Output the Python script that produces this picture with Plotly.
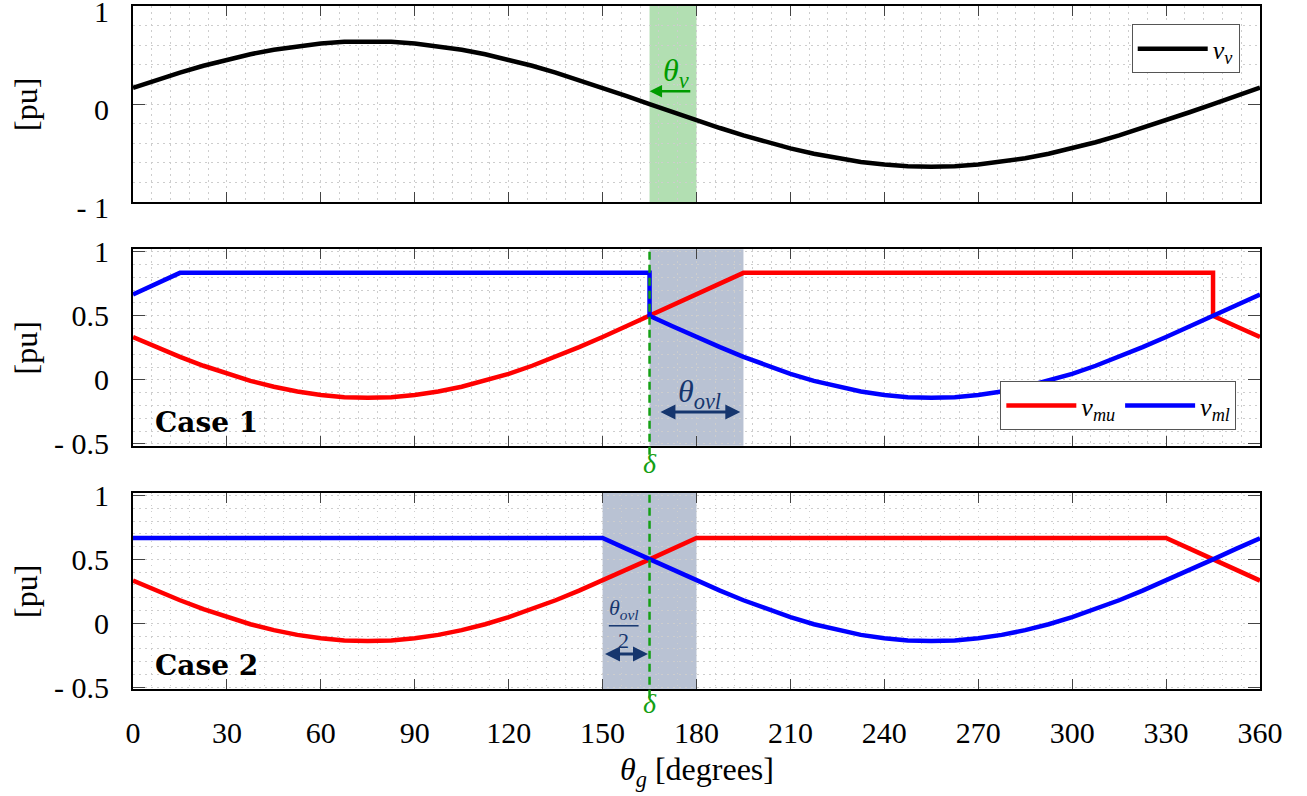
import plotly.graph_objects as go

# ---------------- data ----------------
theta_v = [0, 7.5, 15, 22.5, 30, 37.5, 45, 52.5, 60, 67.5, 75, 82.5, 90, 97.5, 105, 112.5,
           120, 127.5, 135, 142.5, 150, 157.5, 165, 172.5, 180, 187.5, 195, 202.5, 210, 217.5,
           225, 232.5, 240, 247.5, 255, 262.5, 270, 277.5, 285, 292.5, 300, 307.5, 315, 322.5,
           330, 337.5, 345, 352.5, 360]
v_v = [0.166, 0.245, 0.320, 0.390, 0.453, 0.508, 0.554, 0.591, 0.618, 0.635, 0.640, 0.635,
       0.618, 0.591, 0.554, 0.508, 0.453, 0.390, 0.320, 0.245, 0.166, 0.084, 0.000, -0.084,
       -0.166, -0.245, -0.320, -0.390, -0.453, -0.508, -0.554, -0.591, -0.618, -0.635, -0.640,
       -0.635, -0.618, -0.591, -0.554, -0.508, -0.453, -0.390, -0.320, -0.245, -0.166, -0.084,
       0.000, 0.084, 0.166]

# Case 1
c1_theta_mu = [0, 7.5, 15, 22.5, 30, 37.5, 45, 52.5, 60, 67.5, 75, 82.5, 90, 97.5, 105, 112.5,
               120, 127.5, 135, 142.5, 150, 157.5, 165, 195, 345, 345, 352.5, 360]
c1_v_mu = [0.334, 0.255, 0.180, 0.110, 0.047, -0.008, -0.054, -0.091, -0.118, -0.135, -0.140,
           -0.135, -0.118, -0.091, -0.054, -0.008, 0.047, 0.110, 0.180, 0.255, 0.334, 0.416,
           0.500, 0.835, 0.835, 0.500, 0.416, 0.334]
c1_theta_ml = [0, 15, 165, 165, 172.5, 180, 187.5, 195, 202.5, 210, 217.5, 225, 232.5, 240,
               247.5, 255, 262.5, 270, 277.5, 285, 292.5, 300, 307.5, 315, 322.5, 330, 337.5,
               345, 352.5, 360]
c1_v_ml = [0.666, 0.835, 0.835, 0.500, 0.416, 0.334, 0.255, 0.180, 0.110, 0.047, -0.008, -0.054,
           -0.091, -0.118, -0.135, -0.140, -0.135, -0.118, -0.091, -0.054, -0.008, 0.047, 0.110,
           0.180, 0.255, 0.334, 0.416, 0.500, 0.584, 0.666]

# Case 2
c2_theta_mu = [0, 7.5, 15, 22.5, 30, 37.5, 45, 52.5, 60, 67.5, 75, 82.5, 90, 97.5, 105, 112.5,
               120, 127.5, 135, 142.5, 150, 157.5, 165, 180, 330, 337.5, 345, 352.5, 360]
c2_v_mu = [0.334, 0.255, 0.180, 0.110, 0.047, -0.008, -0.054, -0.091, -0.118, -0.135, -0.140,
           -0.135, -0.118, -0.091, -0.054, -0.008, 0.047, 0.110, 0.180, 0.255, 0.334, 0.416,
           0.500, 0.668, 0.668, 0.584, 0.500, 0.416, 0.334]
c2_theta_ml = [0, 150, 157.5, 165, 172.5, 180, 187.5, 195, 202.5, 210, 217.5, 225, 232.5, 240,
               247.5, 255, 262.5, 270, 277.5, 285, 292.5, 300, 307.5, 315, 322.5, 330, 337.5,
               345, 352.5, 360]
c2_v_ml = [0.668, 0.668, 0.584, 0.500, 0.416, 0.334, 0.255, 0.180, 0.110, 0.047, -0.008, -0.054,
           -0.091, -0.118, -0.135, -0.140, -0.135, -0.118, -0.091, -0.054, -0.008, 0.047, 0.110,
           0.180, 0.255, 0.334, 0.416, 0.500, 0.584, 0.666]

delta = 165
theta_v_span = [165, 180]
ovl_case1 = [165, 195]
ovl_case2 = [150, 180]

x_ticks = list(range(0, 361, 30))
y1_ticks = [-1, 0, 1]
y1_text = ["- 1", "0", "1"]
y23_ticks = [-0.5, 0, 0.5, 1]
y23_text = ["- 0.5", "0", "0.5", "1"]

# ---------------- style ----------------
FONT = "Liberation Serif, DejaVu Serif, serif"
BOLDFONT = "DejaVu Serif, Liberation Serif, serif"
RED = "rgb(255,0,0)"
BLUE = "rgb(0,0,255)"
GREEN = "rgb(0,155,0)"
DGREEN = "rgb(20,160,20)"
NAVY = "rgb(22,54,110)"
GRID = "rgb(205,205,205)"
GDASH = "1.5px,4.5px"
LW = 4.5

fig = go.Figure()

fig.add_trace(go.Scatter(x=theta_v, y=v_v, mode="lines", line=dict(color="black", width=LW),
                         name="<i>v</i><sub><i>v</i></sub>", xaxis="x", yaxis="y", legend="legend"))

fig.add_trace(go.Scatter(x=c1_theta_mu, y=c1_v_mu, mode="lines", line=dict(color=RED, width=LW),
                         name="<i>v</i><sub><i>mu</i></sub>", xaxis="x2", yaxis="y2", legend="legend2"))
fig.add_trace(go.Scatter(x=c1_theta_ml, y=c1_v_ml, mode="lines", line=dict(color=BLUE, width=LW),
                         name="<i>v</i><sub><i>ml</i></sub>", xaxis="x2", yaxis="y2", legend="legend2"))

fig.add_trace(go.Scatter(x=c2_theta_mu, y=c2_v_mu, mode="lines", line=dict(color=RED, width=LW),
                         showlegend=False, xaxis="x3", yaxis="y3"))
fig.add_trace(go.Scatter(x=c2_theta_ml, y=c2_v_ml, mode="lines", line=dict(color=BLUE, width=LW),
                         showlegend=False, xaxis="x3", yaxis="y3"))


def xaxis(show_labels, anchor):
    return dict(
        range=[0, 360], anchor=anchor, domain=[0, 1], automargin=False,
        tickvals=x_ticks, showticklabels=show_labels, ticklabeloverflow="allow",
        ticks="inside", ticklen=10, tickwidth=1.2, tickcolor="#444",
        showline=True, linecolor="black", linewidth=2, mirror="ticks",
        showgrid=True, gridcolor=GRID, griddash=GDASH, gridwidth=1,
        minor=dict(dtick=6, showgrid=True, gridcolor=GRID, griddash=GDASH, gridwidth=1),
        zeroline=False, ticklabelstandoff=16,
        tickfont=dict(family=FONT, size=30, color="black"),
    )


def yaxis(rng, vals, text, domain, anchor, minor_dtick, shift=0):
    return dict(
        range=rng, domain=domain, anchor=anchor, automargin=False,
        tickvals=vals, ticktext=text, ticklabeloverflow="allow", ticklabelshift=shift,
        ticks="inside", ticklen=12, tickwidth=1.2, tickcolor="#444",
        showline=True, linecolor="black", linewidth=2, mirror="ticks",
        showgrid=True, gridcolor=GRID, griddash=GDASH, gridwidth=1,
        minor=dict(dtick=minor_dtick, tick0=0, showgrid=True, gridcolor=GRID,
                   griddash=GDASH, gridwidth=1),
        zeroline=False, ticklabelstandoff=16,
        tickfont=dict(family=FONT, size=30, color="black"),
    )


dom1 = [0.713, 1.0]
dom2 = [0.356, 0.644]
dom3 = [0.0, 0.287]

fig.update_layout(
    width=1307, height=796,
    margin=dict(l=133, r=47, t=6, b=107, autoexpand=False),
    paper_bgcolor="white", plot_bgcolor="white",
    font=dict(family=FONT, size=30, color="black"),
    xaxis=xaxis(False, "y"),
    xaxis2=dict(xaxis(False, "y2"), matches="x"),
    xaxis3=dict(xaxis(True, "y3"), matches="x"),
    yaxis=yaxis([-1, 1], y1_ticks, y1_text, dom1, "x", 0.2, shift=5),
    yaxis2=yaxis([-0.515, 1.02], y23_ticks, y23_text, dom2, "x2", 0.1),
    yaxis3=yaxis([-0.515, 1.02], y23_ticks, y23_text, dom3, "x3", 0.1),
    legend=dict(x=0.982, y=0.973, xanchor="right", yanchor="top",
                bgcolor="white", bordercolor="#555", borderwidth=1,
                font=dict(family=FONT, size=26), itemwidth=70,
                tracegroupgap=0),
    legend2=dict(orientation="h", x=0.979, y=0.379, xanchor="right", yanchor="bottom",
                 bgcolor="white", bordercolor="#555", borderwidth=1,
                 font=dict(family=FONT, size=26), itemwidth=70),
)

shapes = []
# shaded bands
shapes.append(dict(type="rect", xref="x", yref="y domain", x0=theta_v_span[0], x1=theta_v_span[1],
                   y0=0, y1=1, fillcolor="rgba(0,150,0,0.3)", line=dict(width=0), layer="below"))
shapes.append(dict(type="rect", xref="x2", yref="y2 domain", x0=ovl_case1[0], x1=ovl_case1[1],
                   y0=0, y1=1, fillcolor="rgba(22,54,110,0.3)", line=dict(width=0), layer="below"))
shapes.append(dict(type="rect", xref="x3", yref="y3 domain", x0=ovl_case2[0], x1=ovl_case2[1],
                   y0=0, y1=1, fillcolor="rgba(22,54,110,0.3)", line=dict(width=0), layer="below"))
# delta dashed lines
shapes.append(dict(type="line", xref="x2", yref="y2 domain", x0=delta, x1=delta, y0=-0.045, y1=1,
                   line=dict(color=DGREEN, width=2.5, dash="8px,5px"), layer="above"))
shapes.append(dict(type="line", xref="x3", yref="y3 domain", x0=delta, x1=delta, y0=-0.045, y1=1,
                   line=dict(color=DGREEN, width=2.5, dash="8px,5px"), layer="above"))
# fraction bar of theta_ovl / 2
shapes.append(dict(type="line", xref="x3", yref="y3", x0=152.0, x1=161.5, y0=-0.02, y1=-0.02,
                   line=dict(color=NAVY, width=1.5), layer="above"))
fig.update_layout(shapes=shapes)

ann = []
# theta_v arrow (panel 1)
ann.append(dict(xref="x", yref="y", axref="x", ayref="y", x=theta_v_span[0], y=0.13,
                ax=178.5, ay=0.13, showarrow=True, arrowhead=2, arrowsize=1, arrowwidth=2.5,
                arrowcolor=GREEN, text=""))
ann.append(dict(xref="x", yref="y", x=173.5, y=0.32, showarrow=False,
                text="<i>θ</i><sub><i>v</i></sub>", font=dict(family=FONT, size=32, color=GREEN)))
# theta_ovl arrow (panel 2)
ann.append(dict(xref="x2", yref="y2", axref="x2", ayref="y2", x=194, y=-0.25,
                ax=168, ay=-0.25, showarrow=True, arrowhead=2, arrowside="end+start",
                arrowsize=1, arrowwidth=3, arrowcolor=NAVY, text=""))
ann.append(dict(xref="x2", yref="y2", x=181, y=-0.105, showarrow=False,
                text="<i>θ</i><sub><i>ovl</i></sub>", font=dict(family=FONT, size=32, color=NAVY)))
# theta_ovl/2 arrow (panel 3)
ann.append(dict(xref="x3", yref="y3", axref="x3", ayref="y3", x=164.5, y=-0.24,
                ax=150.3, ay=-0.24, showarrow=True, arrowhead=2, arrowside="end+start",
                arrowsize=1, arrowwidth=3, arrowcolor=NAVY, text=""))
ann.append(dict(xref="x3", yref="y3", x=156.7, y=-0.01, yanchor="bottom", showarrow=False,
                text="<i>θ</i><sub><i>ovl</i></sub>", font=dict(family=FONT, size=22, color=NAVY)))
ann.append(dict(xref="x3", yref="y3", x=156.7, y=-0.025, yanchor="top", showarrow=False,
                text="2", font=dict(family=FONT, size=22, color=NAVY)))
# delta labels
ann.append(dict(xref="x2", yref="y2 domain", x=delta, y=-0.09, showarrow=False, yanchor="middle",
                text="<i>δ</i>", font=dict(family=FONT, size=28, color=DGREEN)))
ann.append(dict(xref="x3", yref="y3 domain", x=delta, y=-0.075, showarrow=False, yanchor="middle",
                text="<i>δ</i>", font=dict(family=FONT, size=28, color=DGREEN)))
# case labels
ann.append(dict(xref="x2", yref="y2", x=6.5, y=-0.33, xanchor="left", showarrow=False,
                text="<b>Case 1</b>", font=dict(family=BOLDFONT, size=28, color="black")))
ann.append(dict(xref="x3", yref="y3", x=6.5, y=-0.33, xanchor="left", showarrow=False,
                text="<b>Case 2</b>", font=dict(family=BOLDFONT, size=28, color="black")))
# y-axis titles
for dom in (dom1, dom2, dom3):
    ann.append(dict(xref="paper", yref="paper", x=-0.095, y=(dom[0] + dom[1]) / 2,
                    xanchor="center", yanchor="middle", showarrow=False,
                    text="[pu]", textangle=-90, font=dict(family=FONT, size=32, color="black")))
# x-axis title
ann.append(dict(xref="paper", yref="paper", x=0.5, y=-0.121, xanchor="center", yanchor="middle",
                showarrow=False,
                text="<i>θ</i><sub><i>g</i></sub> [degrees]", font=dict(family=FONT, size=32, color="black")))
fig.update_layout(annotations=ann)

fig.write_html("out.html", config={"displayModeBar": False},
               post_script="document.body.style.margin='0px';")
